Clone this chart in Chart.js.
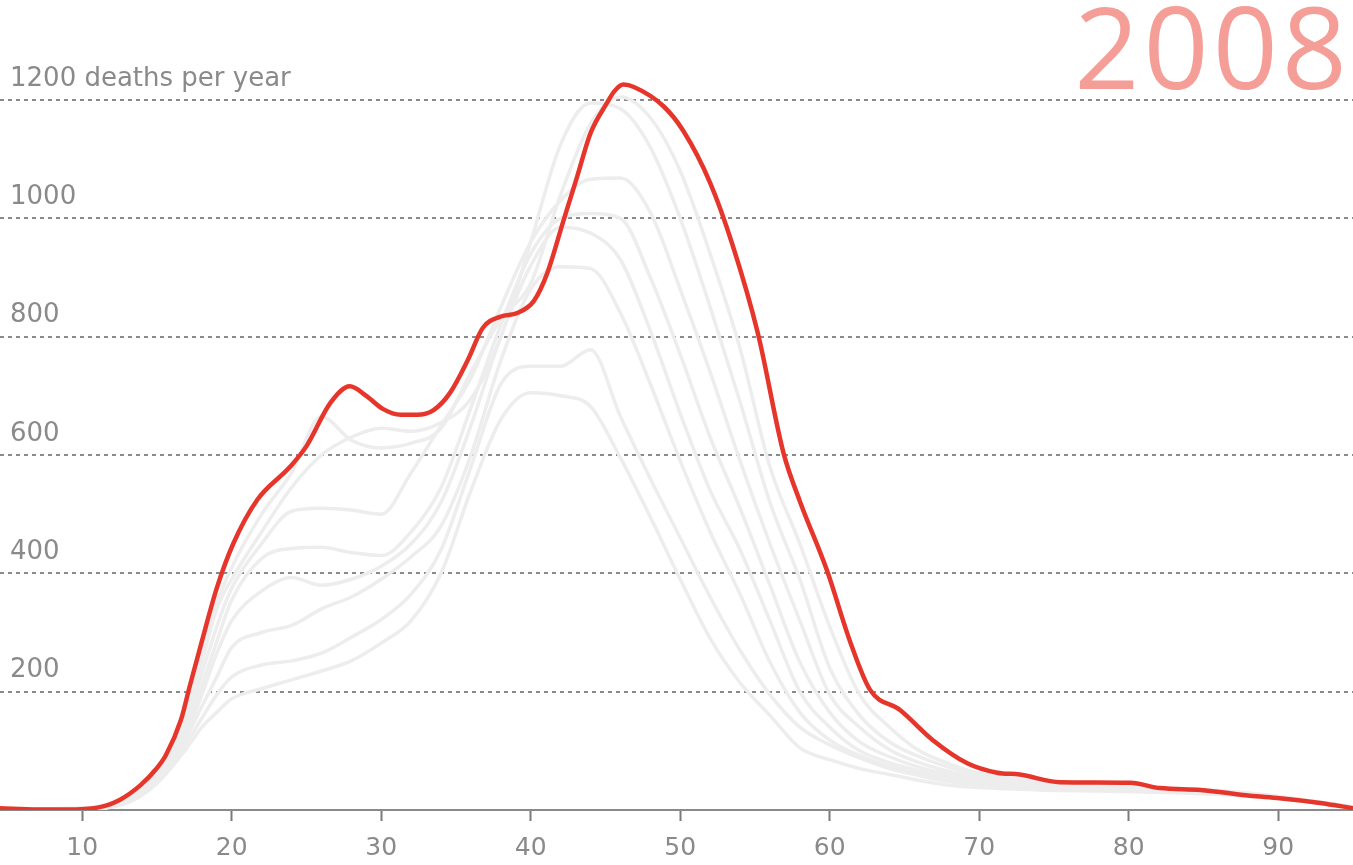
<!DOCTYPE html>
<html>
<head>
<meta charset="utf-8">
<script src="https://cdn.jsdelivr.net/npm/chart.js@4.4.1/dist/chart.umd.min.js"></script>
<style>
html,body{margin:0;padding:0;background:#fff;overflow:hidden}
canvas{display:block}
</style>
</head>
<body>
<canvas id="c" width="1353" height="865"></canvas>
<script>
// ---- data ----
const yearLabel = '2008';
const yUnitLabel = 'deaths per year';
const xTicks = [10, 20, 30, 40, 50, 60, 70, 80, 90];
const yTicks = [200, 400, 600, 800, 1000, 1200];

// highlighted year (2008): age -> deaths per year
const redAges = [4.5, 7, 9, 11, 12.5, 13.9, 14.9, 15.6, 16.6, 17.2, 18, 19, 20.1, 21.7, 23.9, 25, 26.6, 27.9, 29, 30.1, 31.3, 32.4, 33.5, 34.6, 35.8, 36.8, 38, 39.1, 40.2, 41.1, 42.2, 43.1, 44, 45.1, 45.6, 46.2, 46.9, 48.9, 50.2, 52, 53.5, 55.2, 56.9, 58, 59.8, 61.4, 62.7, 64.7, 66.9, 69.2, 71.2, 72.7, 75.4, 80.1, 82.1, 84.8, 88.1, 90.1, 92.8, 95];
const redDeaths = [3, 1, 1, 4, 17, 42, 68, 93, 152, 210, 285, 375, 450, 524, 580, 615, 688, 716, 700, 678, 668, 668, 676, 705, 761, 815, 834, 840, 860, 907, 997, 1070, 1144, 1195, 1215, 1226, 1222, 1189, 1148, 1060, 955, 805, 604, 522, 406, 282, 203, 169, 118, 79, 63, 60, 47, 46, 37, 34, 24, 20, 12, 3];

// earlier years (grey background lines)
const grayAges = [4.5, 10, 13, 15, 17, 18, 19, 20, 22, 24, 26, 28, 30, 32, 34, 36, 38, 40, 42, 44, 46, 48, 50, 52, 54, 56, 58, 60, 62, 64, 66, 68, 70, 74, 78, 82, 86, 90, 95];
const deaths2000 = [2, 2, 12, 45, 105, 140, 165, 188, 205, 220, 235, 252, 282, 320, 400, 540, 660, 705, 700, 682, 595, 495, 390, 290, 215, 160, 105, 85, 70, 60, 50, 42, 38, 34, 32, 30, 26, 20, 5];
const deaths2001 = [2, 2, 13, 48, 115, 155, 195, 225, 245, 252, 265, 292, 322, 365, 440, 580, 720, 750, 750, 778, 665, 560, 460, 360, 270, 195, 140, 110, 88, 70, 58, 48, 42, 36, 34, 32, 28, 20, 5];
const deaths2002 = [2, 2, 14, 52, 125, 175, 225, 275, 300, 312, 340, 360, 390, 428, 480, 600, 760, 880, 918, 915, 840, 720, 590, 470, 365, 250, 165, 118, 92, 74, 62, 52, 45, 38, 35, 33, 28, 20, 5];
const deaths2003 = [2, 2, 15, 55, 130, 195, 265, 320, 370, 393, 380, 390, 412, 450, 520, 650, 800, 920, 985, 975, 930, 810, 670, 540, 440, 320, 200, 140, 100, 80, 66, 55, 47, 40, 36, 34, 29, 21, 5];
const deaths2004 = [2, 2, 16, 58, 140, 210, 285, 355, 425, 442, 444, 435, 430, 470, 545, 680, 820, 940, 1000, 1008, 1000, 900, 770, 630, 510, 380, 250, 165, 115, 90, 72, 60, 50, 42, 38, 35, 30, 22, 5];
const deaths2005 = [2, 2, 17, 60, 150, 230, 310, 375, 450, 505, 510, 507, 500, 570, 650, 730, 850, 960, 1030, 1066, 1068, 1010, 880, 740, 590, 450, 320, 195, 140, 102, 80, 65, 54, 44, 40, 36, 31, 22, 5];
const deaths2006 = [2, 3, 18, 63, 160, 250, 340, 390, 470, 545, 600, 630, 645, 640, 655, 695, 800, 960, 1125, 1195, 1185, 1120, 1000, 850, 690, 520, 390, 240, 160, 115, 90, 72, 58, 46, 41, 37, 32, 23, 5];
const deaths2007 = [2, 3, 19, 65, 170, 260, 350, 410, 500, 570, 665, 625, 612, 620, 645, 740, 830, 890, 1040, 1160, 1205, 1170, 1080, 940, 780, 580, 450, 310, 195, 140, 100, 78, 62, 48, 42, 38, 33, 23, 5];
const grayYears = ['2000', '2001', '2002', '2003', '2004', '2005', '2006', '2007'];
const graySeries = [deaths2000, deaths2001, deaths2002, deaths2003, deaths2004, deaths2005, deaths2006, deaths2007];

// ---- styles ----
const RED = '#e6352b';
const GREY_LINE = '#ededed';
const TEXT_GREY = '#8a8a8a';
const FONT = '"DejaVu Sans", Verdana, sans-serif';

const datasets = [{
  label: yearLabel,
  data: redAges.map((a, i) => ({x: a, y: redDeaths[i]})),
  borderColor: RED,
  borderWidth: 4.5,
  pointRadius: 0,
  cubicInterpolationMode: 'monotone',
  order: 0
}];
grayYears.forEach((yr, k) => {
  datasets.push({
    label: yr,
    data: grayAges.map((a, i) => ({x: a, y: graySeries[k][i]})),
    borderColor: GREY_LINE,
    borderWidth: 3.5,
    pointRadius: 0,
    cubicInterpolationMode: 'monotone',
    order: 1
  });
});

const yearText = {
  id: 'yearText',
  afterDraw(chart) {
    const ctx = chart.ctx;
    ctx.save();
    ctx.font = '114px "Open Sans"';
    try { ctx.letterSpacing = '4px'; } catch (e) {}
    ctx.fillStyle = '#f59e98';
    ctx.textAlign = 'right';
    ctx.textBaseline = 'alphabetic';
    ctx.fillText(yearLabel, 1351, 89);
    ctx.restore();
  }
};

new Chart(document.getElementById('c'), {
  type: 'line',
  data: {datasets},
  plugins: [yearText],
  options: {
    responsive: false,
    animation: false,
    devicePixelRatio: 1,
    layout: {padding: 0},
    plugins: {legend: {display: false}, tooltip: {enabled: false}},
    scales: {
      x: {
        type: 'linear', min: 4.5, max: 95,
        afterBuildTicks: s => { s.ticks = xTicks.map(v => ({value: v})); },
        afterFit: s => { s.height = 55; s.paddingLeft = 0; s.paddingRight = 0; },
        grid: {drawOnChartArea: false, drawTicks: true, tickLength: 11, tickWidth: 2, tickColor: '#7a7a7a'},
        border: {display: true, color: '#8a8a8a', width: 2},
        ticks: {color: TEXT_GREY, font: {family: FONT, size: 25}, padding: 12, maxRotation: 0, autoSkip: false}
      },
      y: {
        type: 'linear', min: 0, max: 1369,
        afterBuildTicks: s => { s.ticks = yTicks.map(v => ({value: v})); },
        afterFit: s => { s.width = 0; s.paddingTop = 0; s.paddingBottom = 0; },
        grid: {drawTicks: false, color: '#8a8a8a', lineWidth: 2},
        border: {display: false, dash: [4, 4]},
        ticks: {
          mirror: true, padding: 10, labelOffset: -21, color: TEXT_GREY,
          font: {family: FONT, size: 26},
          callback: v => v === yTicks[yTicks.length - 1] ? v + ' ' + yUnitLabel : String(v)
        }
      }
    }
  }
});
</script>
</body>
</html>
